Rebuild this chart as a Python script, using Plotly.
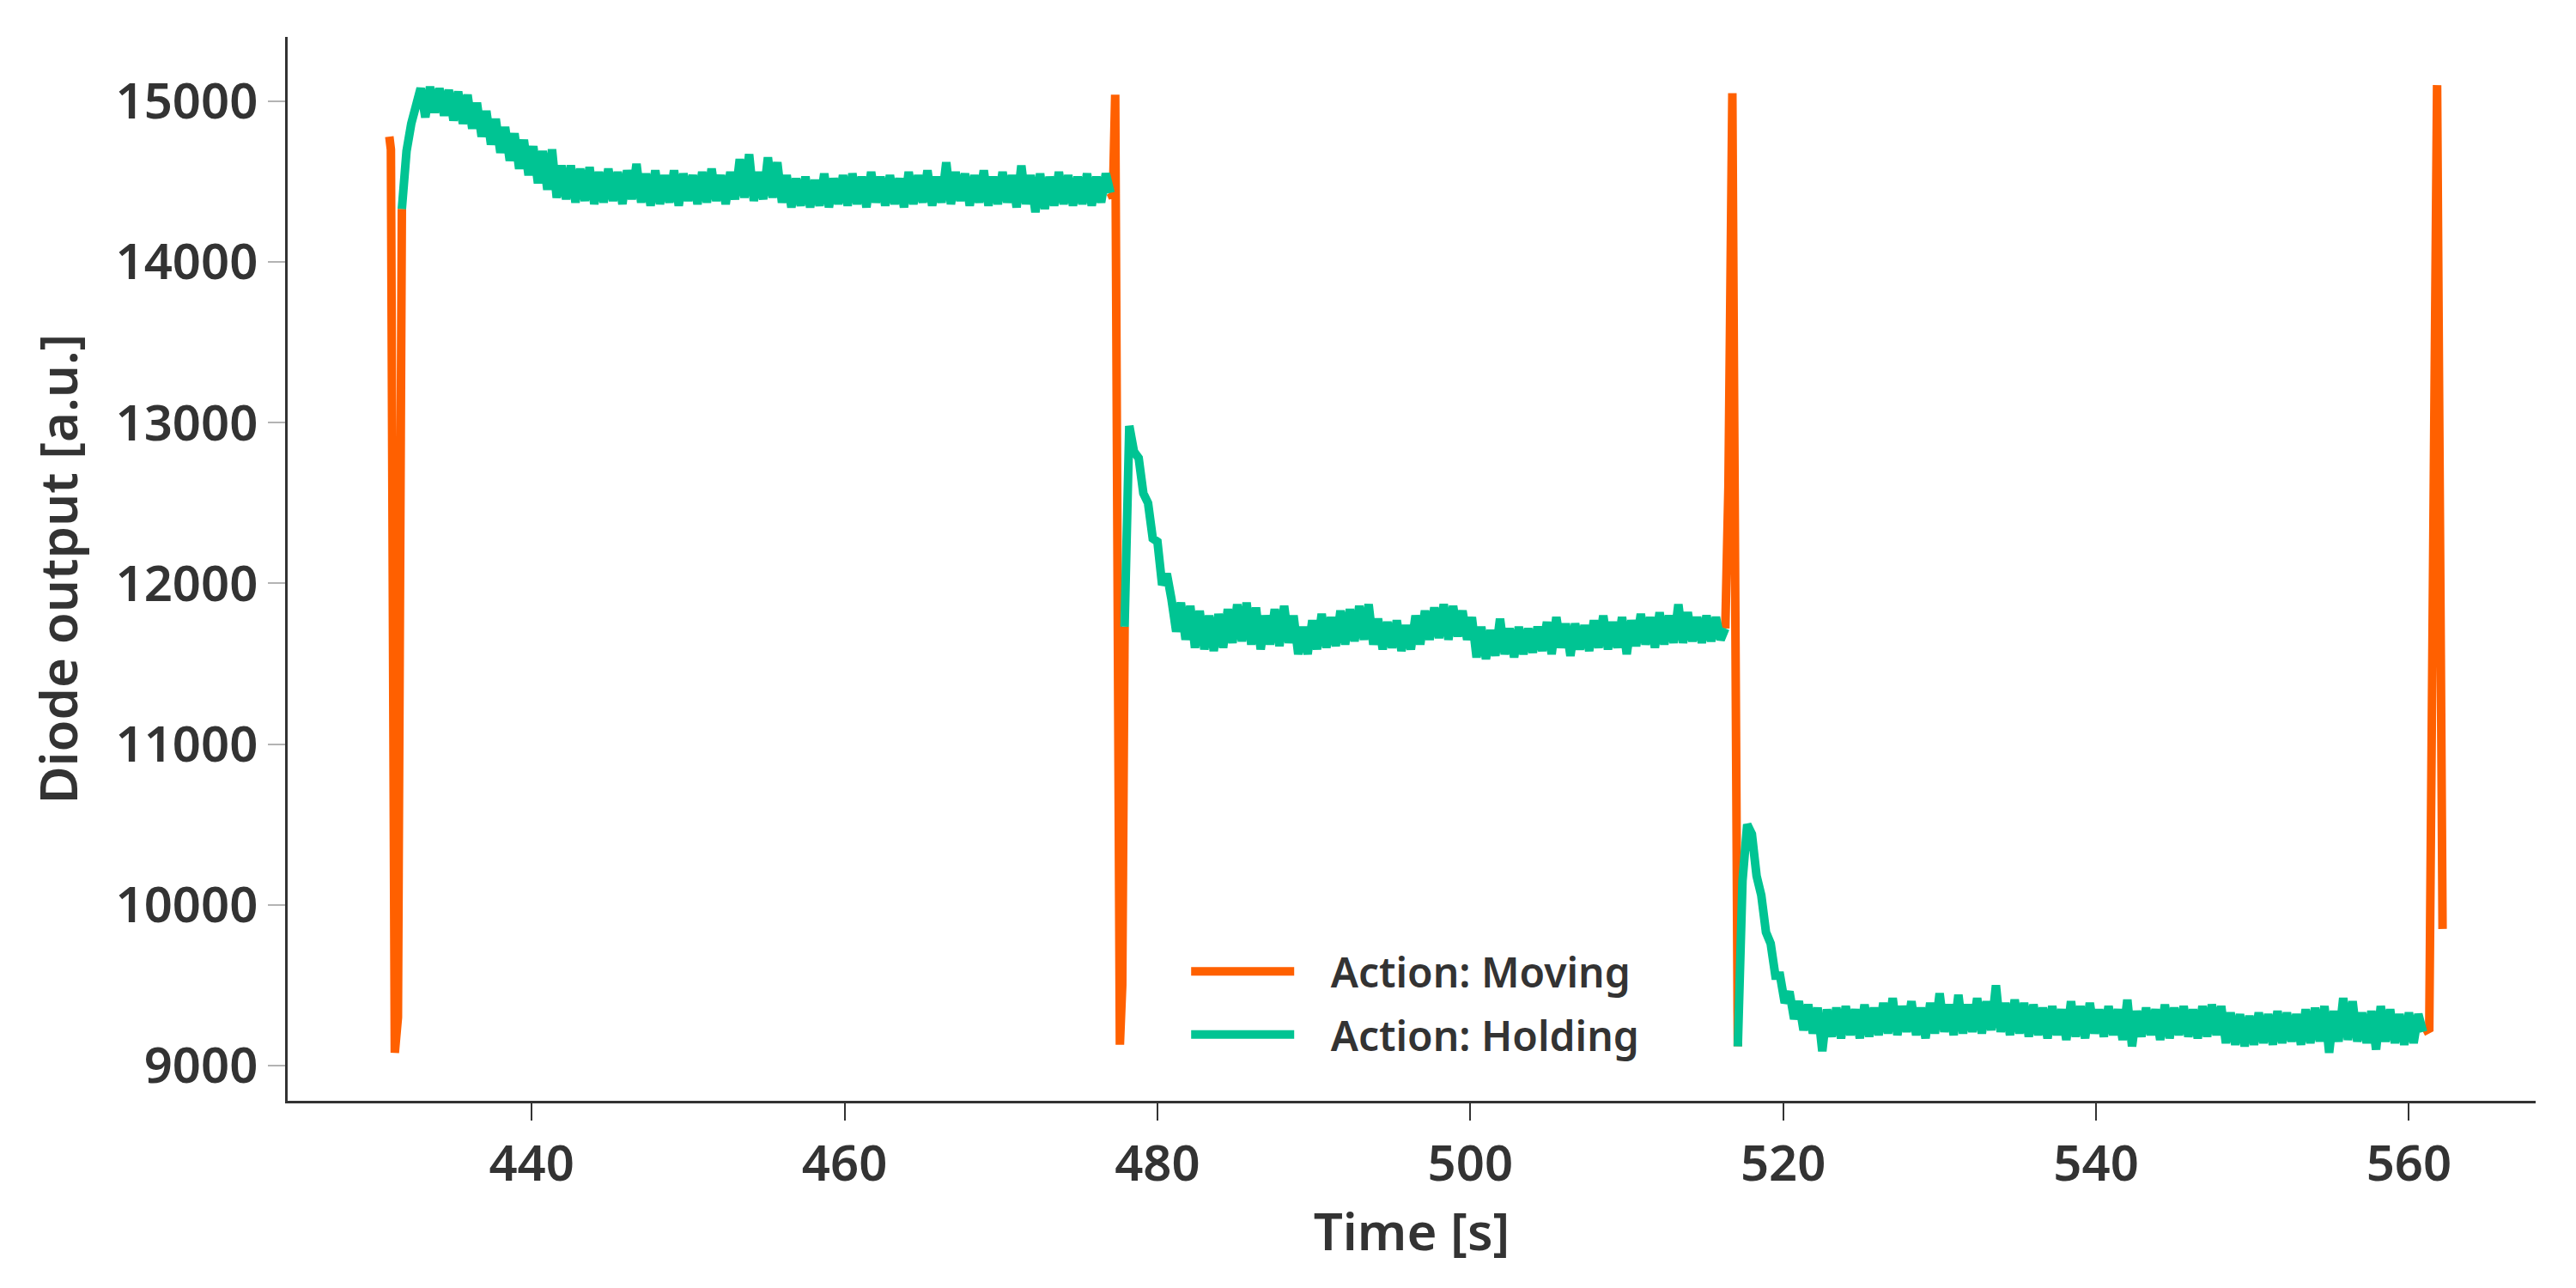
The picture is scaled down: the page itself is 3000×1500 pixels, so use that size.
import numpy as np
import plotly.graph_objects as go

# ---------------- data ----------------
sample_step = 0.3  # s, sampling interval of the holding traces

hold1_start = 431.7
hold1_values = [
    14330, 14690, 14860, 14960, 15080,
    14900, 15090, 14930, 15080, 14910, 15070, 14880, 15060, 14860, 15040,
    14830, 14990, 14780, 14940, 14730, 14890, 14680, 14840, 14630, 14800,
    14580, 14760, 14540, 14720, 14490, 14690, 14450, 14700, 14400, 14600,
    14390, 14600, 14370, 14580, 14380, 14590, 14360, 14560, 14370, 14580,
    14380, 14560, 14360, 14570, 14390, 14610, 14370, 14550, 14350, 14570,
    14360, 14540, 14370, 14570, 14350, 14550, 14380, 14540, 14360, 14560,
    14370, 14580, 14380, 14540, 14360, 14560, 14390, 14640, 14400, 14670,
    14380, 14560, 14390, 14650, 14400, 14620, 14370, 14540, 14340, 14520,
    14350, 14530, 14340, 14510, 14350, 14550, 14340, 14520, 14360, 14540,
    14350, 14550, 14360, 14530, 14340, 14560, 14370, 14530, 14350, 14540,
    14360, 14520, 14340, 14560, 14360, 14540, 14370, 14570, 14350, 14530,
    14370, 14620, 14360, 14560, 14380, 14550, 14350, 14540, 14370, 14570,
    14350, 14530, 14360, 14560, 14370, 14540, 14340, 14600, 14360, 14540,
    14310, 14550, 14330, 14530, 14350, 14560, 14360, 14540, 14350, 14530,
    14360, 14550, 14350, 14530, 14370, 14550, 14430,
]

hold2_start = 477.9
hold2_values = [
    11730, 12980, 12820, 12780, 12560, 12500, 12280, 12260, 11990, 12060,
    11900, 11700, 11880, 11650, 11860, 11600, 11830, 11590, 11800, 11580,
    11810, 11600, 11840, 11630, 11870, 11640, 11880, 11620, 11850, 11590,
    11800, 11620, 11840, 11610, 11860, 11630, 11800, 11560, 11730, 11560,
    11770, 11590, 11810, 11600, 11790, 11610, 11830, 11620, 11840, 11640,
    11860, 11650, 11870, 11620, 11780, 11590, 11760, 11600, 11770, 11580,
    11740, 11590, 11800, 11620, 11830, 11650, 11850, 11660, 11870, 11650,
    11860, 11670, 11830, 11650, 11790, 11540, 11730, 11530, 11710, 11550,
    11780, 11560, 11720, 11540, 11730, 11560, 11720, 11570, 11730, 11580,
    11760, 11560, 11790, 11600, 11750, 11550, 11750, 11590, 11740, 11580,
    11770, 11600, 11800, 11590, 11760, 11600, 11790, 11560, 11770, 11610,
    11810, 11620, 11790, 11600, 11820, 11620, 11800, 11630, 11870, 11630,
    11820, 11640, 11790, 11630, 11800, 11640, 11790, 11650, 11720,
]

hold3_start = 517.1
hold3_values = [
    9120, 10150, 10500, 10440, 10180, 10060, 9830, 9760, 9560, 9560,
    9390, 9460, 9290, 9400, 9220, 9380, 9200, 9360, 9090, 9350,
    9180, 9360, 9170, 9370, 9190, 9350, 9170, 9380, 9180, 9360,
    9190, 9390, 9200, 9420, 9190, 9370, 9210, 9400, 9190, 9360,
    9170, 9390, 9200, 9450, 9210, 9380, 9190, 9440, 9200, 9380,
    9210, 9420, 9200, 9400, 9220, 9500, 9210, 9390, 9190, 9410,
    9200, 9390, 9180, 9380, 9190, 9360, 9170, 9370, 9190, 9350,
    9160, 9400, 9180, 9370, 9170, 9390, 9200, 9350, 9180, 9370,
    9190, 9350, 9160, 9410, 9120, 9340, 9180, 9360, 9190, 9350,
    9160, 9380, 9170, 9360, 9190, 9370, 9180, 9350, 9170, 9370,
    9180, 9380, 9190, 9370, 9140, 9330, 9130, 9320, 9120, 9310,
    9130, 9330, 9140, 9320, 9130, 9340, 9140, 9330, 9150, 9320,
    9130, 9350, 9140, 9360, 9150, 9370, 9080, 9340, 9150, 9420,
    9160, 9400, 9150, 9330, 9140, 9340, 9100, 9370, 9150, 9350,
    9140, 9320, 9130, 9330, 9140, 9320, 9210,
]

move1_t = [430.9, 431.0, 431.25, 431.45, 431.7]
move1_v = [14780, 14700, 9080, 9300, 14330]
move2_t = [477.0, 477.15, 477.3, 477.45, 477.6, 477.75, 477.9]
move2_v = [14430, 14400, 15040, 13000, 9130, 9500, 11730]
move3_t = [516.3, 516.5, 516.75, 516.85, 517.0, 517.1]
move3_v = [11720, 12600, 15050, 13200, 9120, 9120]
move4_t = [560.9, 561.3, 561.8, 562.15]
move4_v = [9210, 9230, 15100, 9850]

x_ticks = [440, 460, 480, 500, 520, 540, 560]
y_ticks = [9000, 10000, 11000, 12000, 13000, 14000, 15000]

# ---------------- build traces ----------------
def hold_times(start, values):
    return list(start + sample_step * np.arange(len(values)))

def join(segments):
    xs, ys = [], []
    for i, (t, v) in enumerate(segments):
        if i:
            xs.append(None)
            ys.append(None)
        xs.extend(t)
        ys.extend(v)
    return xs, ys

hold_x, hold_y = join([
    (hold_times(hold1_start, hold1_values), hold1_values),
    (hold_times(hold2_start, hold2_values), hold2_values),
    (hold_times(hold3_start, hold3_values), hold3_values),
])
move_x, move_y = join([
    (move1_t, move1_v), (move2_t, move2_v), (move3_t, move3_v), (move4_t, move4_v),
])

ORANGE = "#ff6000"
GREEN = "#00c493"
TEXT = "#333333"
FONT = "Noto Sans"
PAD = "\u00a0\u00a0\u00a0"

fig = go.Figure()
fig.add_trace(go.Scatter(
    x=move_x, y=move_y, mode="lines", name=PAD + "Action: Moving",
    legendgroup="moving",
    line=dict(color=ORANGE, width=10), connectgaps=False,
))
fig.add_trace(go.Scatter(
    x=hold_x, y=hold_y, mode="lines", name=PAD + "Action: Holding",
    legendgroup="holding",
    line=dict(color=GREEN, width=10), connectgaps=False,
))

fig.update_layout(
    width=3000, height=1500,
    margin=dict(l=335, r=47, t=43, b=218),
    paper_bgcolor="white", plot_bgcolor="white",
    font=dict(family=FONT, color=TEXT, size=58, weight=600),
    showlegend=True,
    legend=dict(
        x=0.40, y=0.152, xanchor="left", yanchor="top",
        bgcolor="rgba(0,0,0,0)", borderwidth=0,
        font=dict(family=FONT, size=48, color=TEXT, weight=600),
        itemwidth=120, tracegroupgap=8,
    ),
)
fig.update_xaxes(
    range=[424.4, 568.1], tickvals=x_ticks, ticktext=[str(v) for v in x_ticks],
    showgrid=False, zeroline=False,
    showline=True, linecolor=TEXT, linewidth=3,
    ticks="outside", ticklen=20, tickwidth=2, tickcolor=TEXT,
    tickfont=dict(family=FONT, size=58, color=TEXT, weight=600),
    title=dict(text="Time [s]", font=dict(family=FONT, size=60, color=TEXT, weight=600), standoff=22),
)
fig.update_yaxes(
    range=[8781, 15400], tickvals=y_ticks, ticktext=[str(v) for v in y_ticks],
    showgrid=False, zeroline=False,
    showline=True, linecolor=TEXT, linewidth=3,
    ticks="outside", ticklen=20, tickwidth=2, tickcolor="#b3b3b3",
    tickfont=dict(family=FONT, size=58, color=TEXT, weight=600),
    title=dict(text="Diode output [a.u.]", font=dict(family=FONT, size=60, color=TEXT, weight=600), standoff=25),
)

fig.write_html("out.html")
